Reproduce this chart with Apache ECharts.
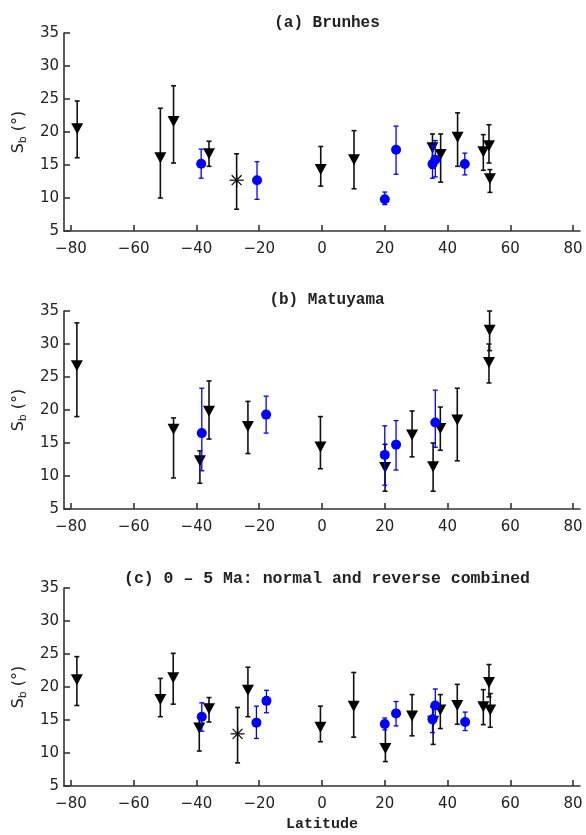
<!DOCTYPE html>
<html>
<head>
<meta charset="utf-8">
<script src="https://cdn.jsdelivr.net/npm/echarts@6/dist/echarts.min.js"></script>
<style>
html,body{margin:0;padding:0;background:#fff;}
#chart{width:586px;height:835px;}
</style>
</head>
<body>
<div id="chart"></div>
<script>
// ---- data: [latitude, Sb, lower, upper] ----
const xTicks = [-80, -60, -40, -20, 0, 20, 40, 60, 80];
const panelTitles = ['(a) Brunhes', '(b) Matuyama', '(c) 0 \u2013 5 Ma: normal and reverse combined'];

const brunhesTri = [
  [-78.0, 20.5, 16.1, 24.7],
  [-51.5, 16.1, 10.0, 23.6],
  [-47.3, 21.6, 15.3, 27.0],
  [-36.0, 16.7, 14.8, 18.6],
  [-0.4, 14.3, 11.8, 17.8],
  [10.2, 15.8, 11.4, 20.2],
  [35.2, 17.6, 14.5, 19.7],
  [37.8, 16.6, 12.4, 19.7],
  [43.2, 19.2, 14.8, 22.9],
  [51.4, 17.0, 14.2, 19.6],
  [53.2, 17.9, 15.3, 21.1],
  [53.5, 12.9, 10.85, 14.3]
];
const brunhesCirc = [
  [-38.5, 15.2, 13.0, 17.4],
  [-20.7, 12.7, 9.8, 15.5],
  [20.0, 9.8, 9.0, 10.9],
  [23.6, 17.3, 13.6, 20.9],
  [35.2, 15.15, 13.0, 17.9],
  [36.1, 15.8, 13.2, 18.7],
  [45.5, 15.15, 13.5, 16.8]
];
const brunhesStar = [[-27.2, 12.7, 8.3, 16.7]];

const matuyamaTri = [
  [-78.1, 26.7, 19.0, 33.2],
  [-47.3, 17.1, 9.7, 18.8],
  [-38.9, 12.3, 8.9, 13.8],
  [-36.0, 19.8, 15.6, 24.4],
  [-23.6, 17.5, 13.4, 21.3],
  [-0.5, 14.4, 11.1, 19.0],
  [20.1, 11.3, 7.7, 14.8],
  [28.7, 16.2, 12.9, 19.85],
  [35.4, 11.4, 7.7, 15.0],
  [37.7, 17.2, 13.9, 20.45],
  [43.1, 18.5, 12.3, 23.3],
  [53.4, 32.1, 29.0, 35.0],
  [53.2, 27.2, 24.1, 30.0]
];
const matuyamaCirc = [
  [-38.3, 16.5, 10.8, 23.3],
  [-17.8, 19.3, 16.5, 22.1],
  [20.0, 13.2, 8.6, 17.6],
  [23.6, 14.75, 10.9, 18.4],
  [36.1, 18.1, 14.35, 23.0]
];
const matuyamaStar = [];

const combinedTri = [
  [-78.1, 21.1, 17.2, 24.6],
  [-51.5, 18.1, 15.5, 21.3],
  [-47.4, 21.4, 17.4, 25.1],
  [-39.1, 13.8, 10.3, 15.5],
  [-36.0, 16.7, 14.7, 18.4],
  [-23.6, 19.5, 15.5, 23.0],
  [-0.5, 13.9, 11.7, 17.1],
  [10.1, 17.1, 12.4, 22.2],
  [20.2, 10.7, 8.7, 14.3],
  [28.7, 15.6, 12.6, 18.85],
  [35.4, 14.8, 11.3, 17.0],
  [37.7, 16.5, 13.7, 18.85],
  [43.1, 17.2, 14.35, 20.4],
  [51.4, 17.0, 14.3, 19.6],
  [53.2, 20.7, 18.5, 23.4],
  [53.6, 16.5, 13.9, 19.0]
];
const combinedCirc = [
  [-38.3, 15.5, 13.3, 17.6],
  [-20.9, 14.6, 12.2, 17.1],
  [-17.7, 17.9, 16.1, 19.5],
  [20.0, 14.4, 13.5, 15.3],
  [23.6, 16.0, 14.1, 17.8],
  [35.2, 15.1, 13.1, 17.0],
  [36.1, 17.2, 15.3, 19.7],
  [45.6, 14.7, 13.4, 16.2]
];
const combinedStar = [[-26.9, 12.9, 8.5, 16.9]];

// ---- layout ----
const panels = [
  {tri: brunhesTri, circ: brunhesCirc, star: brunhesStar, top: 33, titleTop: 10},
  {tri: matuyamaTri, circ: matuyamaCirc, star: matuyamaStar, top: 311, titleTop: 287},
  {tri: combinedTri, circ: combinedCirc, star: combinedStar, top: 588, titleTop: 565}
];
const GRID_LEFT = 64, GRID_RIGHT = 6, GRID_H = 198;
const AXIS_COLOR = '#333';
const BLUE = '#0000ff';
const MONO = '"Liberation Mono", "DejaVu Sans Mono", monospace';
const SANS = '"DejaVu Sans", "Liberation Sans", sans-serif';

function errRender(color, width, cap) {
  return function (params, api) {
    const x = api.value(0), lo = api.value(2), hi = api.value(3);
    const p1 = api.coord([x, lo]);
    const p2 = api.coord([x, hi]);
    const st = {stroke: color, lineWidth: width};
    return {
      type: 'group',
      children: [
        {type: 'line', shape: {x1: p1[0], y1: p1[1], x2: p2[0], y2: p2[1]}, style: st},
        {type: 'line', shape: {x1: p1[0] - cap, y1: p1[1], x2: p1[0] + cap, y2: p1[1]}, style: st},
        {type: 'line', shape: {x1: p2[0] - cap, y1: p2[1], x2: p2[0] + cap, y2: p2[1]}, style: st}
      ]
    };
  };
}
function starRender(params, api) {
  const c = api.coord([api.value(0), api.value(1)]);
  const r = 7, d = r * Math.SQRT1_2;
  const st = {stroke: '#000', lineWidth: 1.2};
  return {
    type: 'group',
    children: [
      {type: 'line', shape: {x1: c[0] - r, y1: c[1], x2: c[0] + r, y2: c[1]}, style: st},
      {type: 'line', shape: {x1: c[0], y1: c[1] - r, x2: c[0], y2: c[1] + r}, style: st},
      {type: 'line', shape: {x1: c[0] - d, y1: c[1] - d, x2: c[0] + d, y2: c[1] + d}, style: st},
      {type: 'line', shape: {x1: c[0] - d, y1: c[1] + d, x2: c[0] + d, y2: c[1] - d}, style: st}
    ]
  };
}
const minusFmt = v => (v < 0 ? '\u2212' + (-v) : String(v));

const grid = [], xAxis = [], yAxis = [], series = [], title = [];
panels.forEach((p, i) => {
  grid.push({left: GRID_LEFT, right: GRID_RIGHT, top: p.top, height: GRID_H, containLabel: false});
  title.push({
    text: panelTitles[i], left: 322, top: p.titleTop, textAlign: 'center',
    textStyle: {fontFamily: MONO, fontSize: i === 2 ? 16.5 : 16, fontWeight: 'bold', color: '#222'}
  });
  xAxis.push({
    type: 'value', gridIndex: i, min: -82.2, max: 82.2,
    name: i === 2 ? 'Latitude' : '', nameLocation: 'middle', nameGap: 31,
    nameTextStyle: {fontFamily: MONO, fontSize: 15, fontWeight: 'bold', color: '#222'},
    axisLine: {show: true, onZero: false, lineStyle: {color: AXIS_COLOR, width: 1.6}},
    axisTick: {show: true, inside: true, length: 6, customValues: xTicks, lineStyle: {color: AXIS_COLOR, width: 1.6}},
    axisLabel: {customValues: xTicks, formatter: minusFmt, margin: 11, fontFamily: SANS, fontSize: 15, color: '#222'},
    splitLine: {show: false}
  });
  yAxis.push({
    type: 'value', gridIndex: i, min: 5, max: 35, interval: 5,
    name: '{s|S}{b|b}{s| (\u00b0)}', nameLocation: 'middle', nameGap: 32, nameRotate: 90,
    nameTextStyle: {
      rich: {
        s: {fontFamily: SANS, fontSize: 16, color: '#222'},
        b: {fontFamily: SANS, fontSize: 11, color: '#222', padding: [9, 0, 0, 0]}
      }
    },
    axisLine: {show: true, onZero: false, lineStyle: {color: AXIS_COLOR, width: 1.6}},
    axisTick: {show: true, inside: true, length: 6, lineStyle: {color: AXIS_COLOR, width: 1.6}},
    axisLabel: {margin: 5, fontFamily: SANS, fontSize: 15, color: '#222'},
    splitLine: {show: false}
  });
  series.push({
    type: 'custom', xAxisIndex: i, yAxisIndex: i, data: p.tri,
    renderItem: errRender('#111', 1.6, 2.5), encode: {x: 0, y: [2, 3]}, silent: true, z: 1
  });
  series.push({
    type: 'scatter', xAxisIndex: i, yAxisIndex: i, data: p.tri.map(r => [r[0], r[1]]),
    symbol: 'triangle', symbolRotate: 180, symbolSize: [12, 11],
    itemStyle: {color: '#000', opacity: 1}, z: 2
  });
  series.push({
    type: 'custom', xAxisIndex: i, yAxisIndex: i, data: p.circ,
    renderItem: errRender(BLUE, 1.3, 2.5), encode: {x: 0, y: [2, 3]}, silent: true, z: 3
  });
  series.push({
    type: 'scatter', xAxisIndex: i, yAxisIndex: i, data: p.circ.map(r => [r[0], r[1]]),
    symbol: 'circle', symbolSize: 10, itemStyle: {color: BLUE, opacity: 1}, z: 4
  });
  if (p.star.length) {
    series.push({
      type: 'custom', xAxisIndex: i, yAxisIndex: i, data: p.star,
      renderItem: errRender('#111', 1.6, 2.5), encode: {x: 0, y: [2, 3]}, silent: true, z: 1
    });
    series.push({
      type: 'custom', xAxisIndex: i, yAxisIndex: i, data: p.star,
      renderItem: starRender, encode: {x: 0, y: 1}, silent: true, z: 5
    });
  }
});

const chart = echarts.init(document.getElementById('chart'), null, {renderer: 'canvas'});
chart.setOption({
  animation: false,
  backgroundColor: '#fff',
  title, grid, xAxis, yAxis, series
});
</script>
</body>
</html>
